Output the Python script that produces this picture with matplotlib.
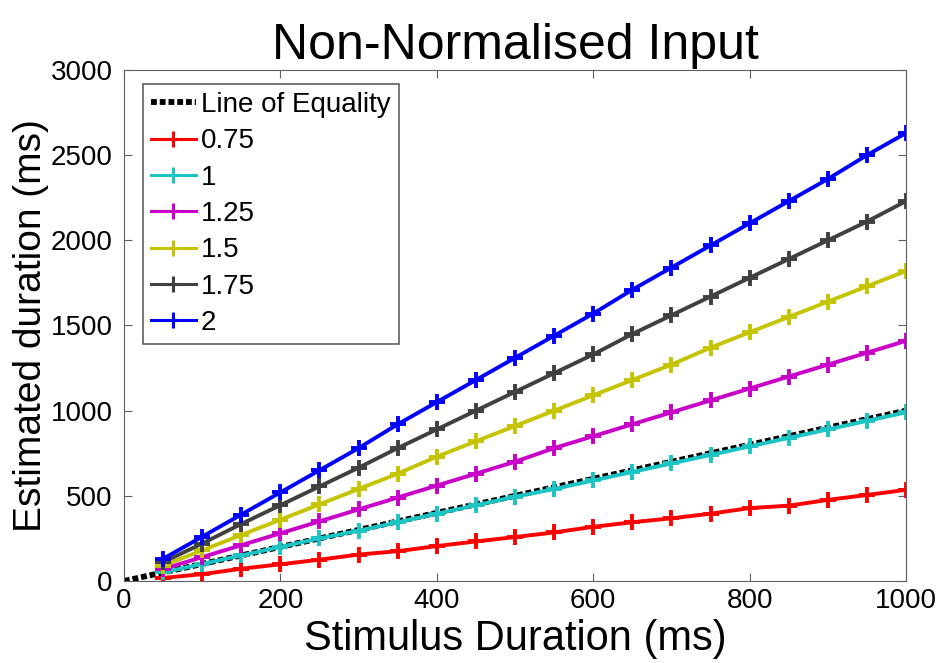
import numpy as np
import matplotlib.pyplot as plt

plt.rcParams['font.family'] = ['Liberation Sans', 'DejaVu Sans']

# Stimulus durations (ms)
durations = [50, 100, 150, 200, 250, 300, 350, 400, 450, 500,
             550, 600, 650, 700, 750, 800, 850, 900, 950, 1000]

# Estimated durations for each scaling factor
est_075 = [18, 40, 72, 98, 125, 155, 175, 205, 232, 258,
           285, 318, 345, 368, 395, 428, 442, 476, 505, 535]
est_1 = [50, 100, 150, 200, 250, 295, 345, 395, 445, 495,
         540, 590, 640, 690, 740, 790, 840, 890, 940, 990]
est_125 = [70, 140, 210, 280, 350, 420, 490, 560, 630, 700,
           780, 850, 920, 990, 1060, 1130, 1200, 1270, 1340, 1410]
est_15 = [90, 180, 270, 360, 450, 540, 630, 730, 820, 910,
          1000, 1090, 1180, 1270, 1370, 1460, 1550, 1640, 1730, 1820]
est_175 = [110, 220, 335, 445, 555, 665, 780, 890, 1000, 1110,
           1220, 1330, 1450, 1560, 1670, 1780, 1890, 2000, 2110, 2230]
est_2 = [130, 260, 390, 520, 650, 780, 920, 1050, 1180, 1310,
         1440, 1570, 1710, 1840, 1970, 2100, 2230, 2360, 2500, 2630]

labels = ['0.75', '1', '1.25', '1.5', '1.75', '2']
colors = ['#ff0000', '#1cc4c4', '#c800c8', '#c4c400', '#404040', '#0000ff']
series = [est_075, est_1, est_125, est_15, est_175, est_2]

equality = [0, 1000]

fig = plt.figure(figsize=(9.42, 6.63), dpi=100)
ax = fig.add_axes([0.1316, 0.1237, 0.8302, 0.7707])

ax.plot(equality, equality, color='black', linestyle=(0, (1.0, 0.5)),
        linewidth=4.2, label='Line of Equality', zorder=1)
for vals, lab, col in zip(series, labels, colors):
    ax.plot(durations, vals, color=col, linewidth=2.8, marker='+',
            markersize=11, markeredgewidth=2.8, label=lab)

ax.set_xlim(0, 1000)
ax.set_ylim(0, 3000)
ax.set_xticks(np.arange(0, 1001, 200))
ax.set_yticks(np.arange(0, 3001, 500))
ax.tick_params(direction='in', top=True, right=True, labelsize=20,
               length=6, color='#606060')
ax.tick_params(axis='y', pad=8)
ax.tick_params(axis='x', pad=5)
for s in ax.spines.values():
    s.set_color('#606060')

ax.set_xlabel('Stimulus Duration (ms)', fontsize=30, labelpad=4)
ax.set_ylabel('Estimated duration (ms)', fontsize=28, labelpad=1)
ax.set_title('Non-Normalised Input', fontsize=36, pad=8)

leg = ax.legend(loc='upper left', fontsize=20, numpoints=1, handlelength=1.6,
                handletextpad=0.2, borderpad=0.3, labelspacing=0.37,
                borderaxespad=0, fancybox=False, framealpha=1,
                bbox_to_anchor=(0.024, 0.973))
leg.get_frame().set_edgecolor('#606060')
leg.get_frame().set_linewidth(1.2)
for h in leg.get_lines()[1:]:
    h.set_linewidth(2.2)
    h.set_markeredgewidth(2.2)

fig.savefig('out.png', dpi=100)
